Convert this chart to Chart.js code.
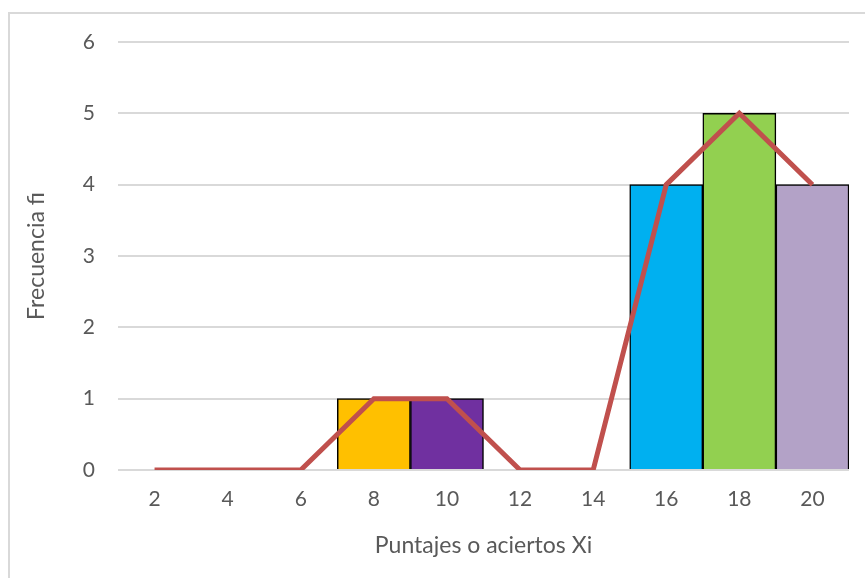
<!DOCTYPE html>
<html>
<head>
<meta charset="utf-8">
<script src="https://cdn.jsdelivr.net/npm/chart.js@4.4.0/dist/chart.umd.min.js"></script>
<style>
  html, body { margin:0; padding:0; background:#fff; overflow:hidden; }
  #wrap { position:relative; width:865px; height:578px; }
  #frame { position:absolute; left:8px; top:12px; width:1000px; height:1000px; border:2px solid #D9D9D9; box-sizing:border-box; pointer-events:none; }
  canvas { position:absolute; left:0; top:0; }
</style>
</head>
<body>
<div id="wrap">
  <div id="frame"></div>
  <canvas id="c" width="865" height="578"></canvas>
</div>
<script>
const categories = ['2','4','6','8','10','12','14','16','18','20'];
const barValues = [null, null, null, 1, 1, null, null, 4, 5, 4];
const barColors = ['#FFC000','#FFC000','#FFC000','#FFC000','#7030A0','#7030A0','#7030A0','#00B0F0','#92D050','#B3A2C7'];
const lineValues = [0, 0, 0, 1, 1, 0, 0, 4, 5, 4];
const yTicks = [0, 1, 2, 3, 4, 5, 6];
const xTitle = 'Puntajes o aciertos Xi';
const yTitle = 'Frecuencia fi';

const FONT = 'Lato, "Open Sans", sans-serif';
const TXT = '#595959';

new Chart(document.getElementById('c'), {
  data: {
    labels: categories,
    datasets: [
      {
        type: 'line',
        data: lineValues,
        borderColor: '#C0504D',
        borderWidth: 5,
        pointRadius: 0,
        tension: 0,
        order: 0
      },
      {
        type: 'bar',
        data: barValues,
        backgroundColor: barColors,
        borderColor: '#000000',
        borderWidth: 1.5,
        barPercentage: 1,
        categoryPercentage: 1,
        order: 1
      }
    ]
  },
  options: {
    responsive: false,
    animation: false,
    layout: { autoPadding: false, padding: { left: 23, right: 16, top: 42, bottom: 19 } },
    plugins: { legend: { display: false }, tooltip: { enabled: false } },
    scales: {
      x: {
        offset: true,
        grid: { display: false, drawTicks: false },
        border: { display: false },
        ticks: { color: TXT, font: { family: FONT, size: 21 }, padding: 17, maxRotation: 0 },
        title: { display: true, text: xTitle, color: TXT, font: { family: FONT, size: 23 }, padding: 0 },
        afterFit: s => { s.height = 89; }
      },
      y: {
        min: 0, max: 6,
        afterBuildTicks: s => { s.ticks = yTicks.map(v => ({ value: v })); },
        grid: { color: '#D9D9D9', lineWidth: 2, drawTicks: false },
        border: { display: false },
        ticks: { color: TXT, font: { family: FONT, size: 21 }, padding: 23 },
        title: { display: true, text: yTitle, color: TXT, font: { family: FONT, size: 23 }, padding: 0 },
        afterFit: s => { s.width = 95; }
      }
    }
  }
});
</script>
</body>
</html>
